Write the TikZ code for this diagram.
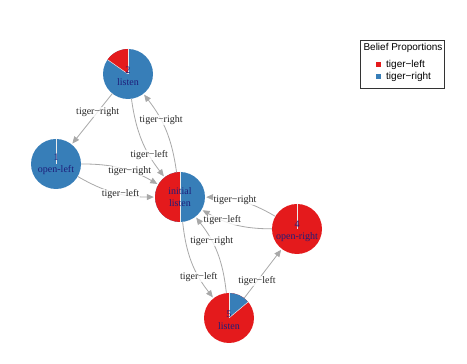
\documentclass[tikz,border=0pt]{standalone}
\usepackage{fontspec}
\setmainfont{Liberation Serif}
\newfontfamily\legfont{Liberation Sans}
\usetikzlibrary{arrows.meta,calc}
\definecolor{tred}{HTML}{E41A1C}
\definecolor{tblue}{HTML}{377EB8}
\definecolor{navytxt}{HTML}{1E1E7A}
\definecolor{edgegrey}{HTML}{A8A8A8}
\tikzset{
  pienode/.style={circle, minimum size=50pt, inner sep=0pt, fill=#1},
  nlab/.style={text=navytxt, font=\fontsize{10}{12}\selectfont, align=center},
  conn/.style={draw=edgegrey, line width=0.8pt, -{Triangle[length=7pt,width=6pt]}, shorten >=1pt},
  elab/.style={font=\fontsize{10}{12}\selectfont, text=black!85, fill=white, fill opacity=0.8, text opacity=1, inner sep=0.5pt},
  slice/.style={draw=white!85!gray, line width=0.5pt},
}
\begin{document}
\begin{tikzpicture}[x=1pt,y=1pt]
\useasboundingbox (0,0) rectangle (467,364);
% nodes
\node[pienode=tblue] (n2) at (128,290) {};
\node[pienode=tblue] (n1) at (56,200) {};
\node[pienode=tblue] (n3) at (180,167) {};
\node[pienode=tred]  (n4) at (297,135) {};
\node[pienode=tred]  (n5) at (229,46) {};
% slices
\fill[tred] (n2.center) -- ++(90:25) arc[start angle=90,end angle=145,radius=25] -- cycle;
\draw[slice] (n2.center) -- ++(90:25);
\draw[slice] (n2.center) -- ++(145:25);
\draw[slice] (n1.center) -- ++(90:25);
\fill[tred] (n3.center) -- ++(90:25) arc[start angle=90,end angle=270,radius=25] -- cycle;
\draw[slice] ($(n3.center)+(0,25)$) -- ($(n3.center)+(0,-25)$);
\draw[slice] (n4.center) -- ++(90:25);
\fill[tblue] (n5.center) -- ++(90:25) arc[start angle=90,end angle=40,radius=25] -- cycle;
\draw[slice] (n5.center) -- ++(90:25);
\draw[slice] (n5.center) -- ++(40:25);
% node labels
\node[nlab] at ($(n2.center)+(0,-2)$) {2\\listen};
\node[nlab] at (n1.center) {1\\open-left};
\node[nlab] at (n3.center) {initial\\listen};
\node[nlab] at ($(n4.center)+(0,-2)$) {4\\open-right};
\node[nlab] at ($(n5.center)+(0,-2)$) {5\\listen};
% edges
\draw[conn] (n2) -- (n1) node[elab, pos=0.36] {tiger−right};
\draw[conn] (n3) to[bend right=15] node[elab, pos=0.64] {tiger−right} (n2);
\draw[conn] (n2) to[bend right=15] node[elab, pos=0.7] {tiger−left} (n3);
\draw[conn] (n1) to[bend left=15] node[elab, pos=0.62] {tiger−right} (n3);
\draw[conn] (n1) to[bend right=15] node[elab, pos=0.58] {tiger−left} (n3);
\draw[conn] (n4) to[bend right=15] node[elab, pos=0.6] {tiger−right} (n3);
\draw[conn] (n4) to[bend left=15] node[elab, pos=0.7] {tiger−left} (n3);
\draw[conn] (n5) to[bend right=16] node[elab, pos=0.66] {tiger−right} (n3);
\draw[conn] (n3) to[bend right=16] node[elab, pos=0.7] {tiger−left} (n5);
\draw[conn] (n5) -- (n4) node[elab, pos=0.34] {tiger−left};
% legend
\node[draw=black!80, line width=0.6pt, minimum width=84pt, minimum height=48pt, inner sep=0pt] (leg) at (402,300) {};
\node[font=\legfont\fontsize{10}{12}\selectfont] (legt) at (403,316) {Belief Proportions};
\node[fill=tred, minimum size=5pt, inner sep=0pt] (sqr) at (378,299) {};
\node[fill=tblue, minimum size=5pt, inner sep=0pt] (sqb) at (378,287) {};
\node[font=\legfont\fontsize{10}{12}\selectfont, anchor=west, inner sep=0pt] (lr) at (386,299) {tiger−left};
\node[font=\legfont\fontsize{10}{12}\selectfont, anchor=west, inner sep=0pt] (lb) at (386,287) {tiger−right};
\end{tikzpicture}
\end{document}
